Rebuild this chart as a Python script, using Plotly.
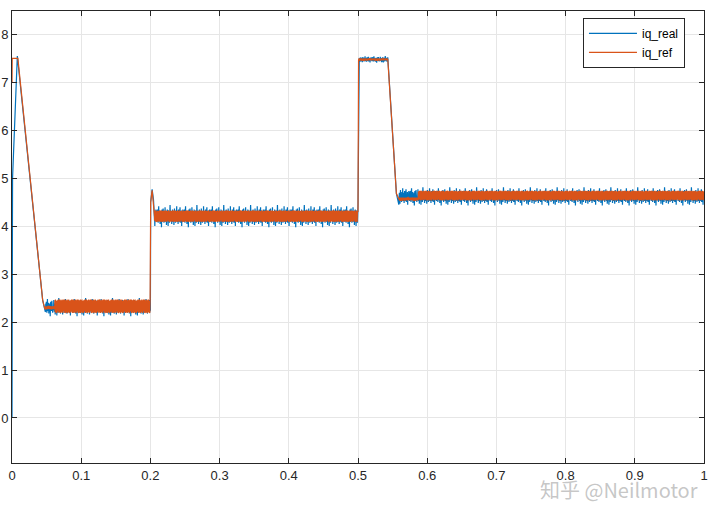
import numpy as np
import plotly.graph_objects as go

# ---------------- data ----------------
# transient key points (time [s], current)
real_ramp_start = [(0.0, 0.0), (0.0008, 5.0), (0.0077, 7.55), (0.0443, 2.46), (0.048, 2.22)]
real_step_02 = [(0.2004, 4.5), (0.2025, 4.77), (0.2045, 4.55), (0.206, 4.12)]
real_step_05 = [(0.5008, 7.5)]
real_fall_054 = [(0.5555, 4.68), (0.559, 4.45)]

ref_ramp_start = [(0.0, 7.0), (0.0003, 7.5), (0.0085, 7.5), (0.0443, 2.46), (0.047, 2.3)]
ref_step_02 = [(0.2004, 4.5), (0.2025, 4.75), (0.2045, 4.5), (0.206, 4.2)]
ref_step_05 = [(0.5008, 7.48)]
ref_fall_054 = [(0.5555, 4.68), (0.56, 4.57)]

# noisy plateaus: (t_start, t_end, level, half-width of noise band)
real_plateaus = [(0.048, 0.2, 2.31, 0.19), (0.206, 0.5, 4.21, 0.23),
                 (0.501, 0.543, 7.48, 0.07), (0.559, 1.0, 4.62, 0.19)]
ref_plateaus = [(0.047, 0.062, 2.30, 0.03), (0.062, 0.2, 2.33, 0.14),
                (0.206, 0.5, 4.21, 0.12), (0.501, 0.543, 7.48, 0.02),
                (0.56, 0.587, 4.57, 0.03), (0.587, 1.0, 4.64, 0.10)]

# hand-typed noise samples (tenths of band half-width)
real_noise = [2, -5, 4, -3, 6, -1, -6, 3, 9, -4, 1, -2, 5, -7, 3, 0, -5, 4, -10, 2,
              6, -3, 1, -4, 7, -2, 3, -6, 0, 5, -3, 8, -1, -5, 2, 4, -8, 3, -2, 6,
              -4, 1, -9, 5, 0, -3, 4, -6, 2, 10, -2, -4, 3, -1, 5, -7, 2, -3, 6, -5,
              1, 4, -2, -8, 3, 7, -4, 0, 2, -6, 5, -1, -3, 9, -5, 2, -2, 4, -7, 1,
              6, -3, 0, -5, 3, 8, -6, 2, -1, -4, 5, -9, 3, 1, -2, 6, -4]
ref_noise = [9, -8, 10, -9, 7, -10, 8, -7, 10, -9, 6, -10, 9, -8, 7, -9, 10, -6, 8, -10,
             9, -7, 10, -8, 6, -9, 10, -10, 7, -8, 9, -9, 8, -7, 10, -10, 6, -8, 9, -9,
             10, -7, 8, -10, 7, -9, 9, -8]

x_ticks = [0, 0.1, 0.2, 0.3, 0.4, 0.5, 0.6, 0.7, 0.8, 0.9, 1]
y_ticks = [0, 1, 2, 3, 4, 5, 6, 7, 8]
step = 0.0004


def build(ramps, plateaus, noise):
    ts, vs = [], []
    k = 0
    events = [("r", r[0][0], r) for r in ramps] + [("p", p[0], p) for p in plateaus]
    events.sort(key=lambda e: e[1])
    for kind, _, item in events:
        if kind == "r":
            for t, v in item:
                ts.append(t)
                vs.append(v)
        else:
            t0, t1, lvl, amp = item
            for t in np.arange(t0, t1, step):
                ts.append(float(t))
                vs.append(lvl + amp * noise[k % len(noise)] / 10.0)
                k += 1
    return ts, vs


rt, rv = build([real_ramp_start, real_step_02, real_step_05, real_fall_054], real_plateaus, real_noise)
ft, fv = build([ref_ramp_start, ref_step_02, ref_step_05, ref_fall_054], ref_plateaus, ref_noise)

fig = go.Figure()
fig.add_trace(go.Scatter(x=rt, y=rv, mode="lines", name="iq_real",
                         line=dict(color="#0072BD", width=1.2)))
fig.add_trace(go.Scatter(x=ft, y=fv, mode="lines", name="iq_ref",
                         line=dict(color="#D95319", width=1.2)))

axis_common = dict(showline=True, linecolor="#262626", linewidth=1, mirror="ticks",
                   ticks="inside", ticklen=5, tickcolor="#262626", automargin=False,
                   showgrid=True, gridcolor="#e6e6e6", gridwidth=1, zeroline=False,
                   tickfont=dict(family="Liberation Sans, Arial", size=13, color="#262626"))

fig.update_xaxes(range=[0, 1], tickvals=x_ticks, ticktext=[str(v) for v in x_ticks], **axis_common)
fig.update_yaxes(range=[-0.94, 8.49], tickvals=y_ticks, ticktext=[str(v) for v in y_ticks], **axis_common)

fig.update_layout(
    width=720, height=509,
    margin=dict(l=12, r=16, t=11, b=46),
    paper_bgcolor="white", plot_bgcolor="white",
    showlegend=True,
    legend=dict(x=0.9725, y=0.985, xanchor="right", yanchor="top",
                bgcolor="white", bordercolor="#262626", borderwidth=1,
                font=dict(family="Liberation Sans, Arial", size=12, color="#000000"),
                tracegroupgap=0, itemwidth=48),
    annotations=[dict(text="知乎 @Neilmotor", xref="paper", yref="paper",
                      x=0.994, y=-0.058, xanchor="right", yanchor="middle", showarrow=False,
                      font=dict(family="Noto Sans CJK SC", size=20,
                                color="rgba(150,150,150,0.55)"))],
)

fig.write_html("out.html", config={"displayModeBar": False},
               post_script="document.body.style.margin='0px';")
